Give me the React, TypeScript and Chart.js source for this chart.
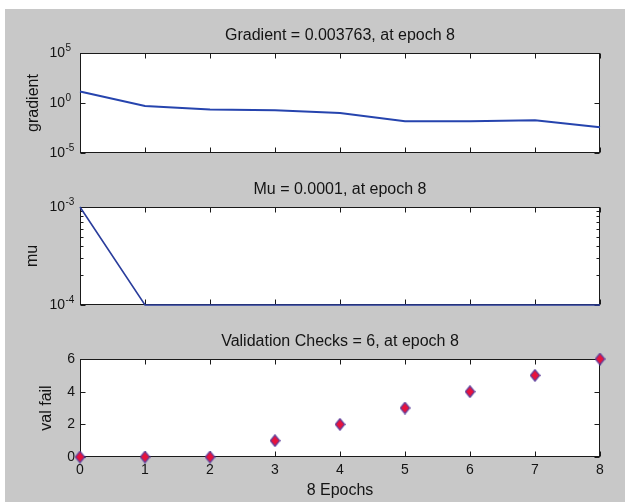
import React, { useEffect, useRef } from 'react';
import { Chart, registerables } from 'chart.js';

Chart.register(...registerables);

// ---- data ----
const epochs = [0, 1, 2, 3, 4, 5, 6, 7, 8];
const gradientValues = [14, 0.51, 0.22, 0.19, 0.1, 0.015, 0.015, 0.019, 0.003763];
const muValues = [1e-3, 1e-4, 1e-4, 1e-4, 1e-4, 1e-4, 1e-4, 1e-4, 1e-4];
const valFailValues = [0, 0, 0, 1, 2, 3, 4, 5, 6];

const gradientTicks = [1e-5, 1, 1e5];
const gradientTickLabels = ['10^-5', '10^0', '10^5'];
const muTicks = [1e-4, 2e-4, 3e-4, 4e-4, 5e-4, 6e-4, 7e-4, 8e-4, 9e-4, 1e-3];
const muTickLabels = ['10^-4', '', '', '', '', '', '', '', '', '10^-3'];
const valFailTicks = [0, 2, 4, 6];
const valFailTickLabels = ['0', '2', '4', '6'];
const epochTickLabels = ['0', '1', '2', '3', '4', '5', '6', '7', '8'];

const titles = [
  'Gradient = 0.003763, at epoch 8',
  'Mu = 0.0001, at epoch 8',
  'Validation Checks = 6, at epoch 8',
];
const yTitles = ['gradient', 'mu', 'val fail'];
const xTitle = '8 Epochs';

// ---- styles ----
const FONT = "'Liberation Sans', Arial, Helvetica, sans-serif";
const TEXT = '#141414';

const framePlugin = {
  id: 'frame',
  beforeDatasetsDraw(chart: any, _args: any, opts: any) {
    const { ctx, chartArea: a, scales } = chart;
    ctx.save();
    ctx.fillStyle = '#ffffff';
    ctx.fillRect(a.left, a.top, a.right - a.left, a.bottom - a.top);
    const L = Math.round(a.left) + 0.5;
    const R = Math.round(a.right) - 0.5;
    const T = Math.round(a.top) + 0.5;
    const B = Math.round(a.bottom) - 0.5;
    ctx.strokeStyle = '#1a1a1a';
    ctx.lineWidth = 1;
    ctx.strokeRect(L, T, R - L, B - T);
    ctx.beginPath();
    const xs = scales.x;
    for (const v of epochs) {
      const px = Math.round(xs.getPixelForValue(v)) + 0.5;
      ctx.moveTo(px, T);
      ctx.lineTo(px, T + 5);
      ctx.moveTo(px, B);
      ctx.lineTo(px, B - 5);
    }
    const ys = scales.y;
    const ticks: number[] = opts.yTicks || [];
    const labels: string[] = opts.yLabels || [];
    ticks.forEach((v, i) => {
      const len = labels[i] ? 5 : 3;
      const py = Math.round(ys.getPixelForValue(v)) + 0.5;
      ctx.moveTo(L, py);
      ctx.lineTo(L + len, py);
      ctx.moveTo(R, py);
      ctx.lineTo(R - len, py);
    });
    ctx.stroke();

    // power-of-ten tick labels with superscript exponents
    if (opts.superscript) {
      ctx.fillStyle = TEXT;
      ticks.forEach((v, i) => {
        const lab = labels[i];
        if (!lab) return;
        const [base, exp] = lab.split('^');
        const py = ys.getPixelForValue(v);
        const split = a.left - 15;
        ctx.font = `14px ${FONT}`;
        ctx.textAlign = 'right';
        ctx.textBaseline = 'middle';
        ctx.fillText(base, split, py);
        ctx.font = `10px ${FONT}`;
        ctx.textAlign = 'left';
        ctx.textBaseline = 'alphabetic';
        ctx.fillText(exp, split + 0.5, py - 2);
      });
    }
    ctx.restore();
  },
};

function makeDiamond(): HTMLCanvasElement {
  const c = document.createElement('canvas');
  c.width = 11;
  c.height = 13;
  const g = c.getContext('2d')!;
  g.beginPath();
  g.moveTo(5.5, 0.8);
  g.lineTo(10.2, 6.5);
  g.lineTo(5.5, 12.2);
  g.lineTo(0.8, 6.5);
  g.closePath();
  g.fillStyle = '#e8123c';
  g.fill();
  g.strokeStyle = '#5a3c9c';
  g.lineWidth = 1.2;
  g.stroke();
  return c;
}

function titleOpts(text: string, top: number, bottom: number) {
  return {
    display: true,
    fullSize: false,
    text,
    color: TEXT,
    font: { family: FONT, size: 16, weight: 'normal' as const, lineHeight: 1.2 },
    padding: { top, bottom },
  };
}

function yScale(type: string, min: number, max: number, ticks: number[], labels: string[], title: string, titlePad: number, showLabels: boolean) {
  return {
    type,
    min,
    max,
    afterBuildTicks: (s: any) => {
      s.ticks = ticks.map((v) => ({ value: v }));
    },
    afterFit: (s: any) => {
      s.width = 80;
    },
    ticks: {
      display: showLabels,
      autoSkip: false,
      padding: 5,
      color: TEXT,
      font: { family: FONT, size: 14 },
      callback: (_v: any, i: number) => labels[i],
    },
    grid: { display: false, drawTicks: false },
    border: { display: false },
    title: {
      display: true,
      text: title,
      color: TEXT,
      font: { family: FONT, size: 16, lineHeight: 1.2 },
      padding: { top: titlePad, bottom: 0 },
    },
  };
}

function xScale(show: boolean) {
  return {
    type: 'linear',
    min: 0,
    max: 8,
    display: show,
    afterBuildTicks: (s: any) => {
      s.ticks = epochs.map((v) => ({ value: v }));
    },
    afterFit: (s: any) => {
      if (show) s.height = 45;
    },
    ticks: {
      autoSkip: false,
      maxRotation: 0,
      padding: 4.6,
      color: TEXT,
      font: { family: FONT, size: 14 },
      callback: (_v: any, i: number) => epochTickLabels[i],
    },
    grid: { display: false, drawTicks: false },
    border: { display: false },
    title: {
      display: show,
      text: xTitle,
      color: TEXT,
      font: { family: FONT, size: 16, lineHeight: 1.2 },
      padding: { top: 0, bottom: 1.4 },
    },
  };
}

export default function App() {
  const r1 = useRef<HTMLCanvasElement>(null);
  const r2 = useRef<HTMLCanvasElement>(null);
  const r3 = useRef<HTMLCanvasElement>(null);

  useEffect(() => {
    const diamond = makeDiamond();
    const common = {
      animation: false as const,
      responsive: false,
      events: [] as any[],
    };
    const c1 = new Chart(r1.current!, {
      type: 'line',
      data: {
        datasets: [
          {
            data: epochs.map((e, i) => ({ x: e, y: gradientValues[i] })),
            borderColor: '#2644ae',
            borderWidth: 2,
            pointRadius: 0,
            tension: 0,
            clip: false as any,
          },
        ],
      },
      options: {
        ...common,
        layout: { padding: { left: 0, right: 25, top: 0, bottom: 17 }, autoPadding: false },
        plugins: {
          legend: { display: false },
          tooltip: { enabled: false },
          title: titleOpts(titles[0], 26.4, 7.4),
          frame: { yTicks: gradientTicks, yLabels: gradientTickLabels, superscript: true },
        } as any,
        scales: {
          x: xScale(false) as any,
          y: yScale('logarithmic', 1e-5, 1e5, gradientTicks, gradientTickLabels, yTitles[0], 24.4, false) as any,
        },
      },
      plugins: [framePlugin],
    });
    const c2 = new Chart(r2.current!, {
      type: 'line',
      data: {
        datasets: [
          {
            data: epochs.map((e, i) => ({ x: e, y: muValues[i] })),
            borderColor: '#2a3d9c',
            borderWidth: 1.6,
            pointRadius: 0,
            tension: 0,
            clip: false as any,
          },
        ],
      },
      options: {
        ...common,
        layout: { padding: { left: 0, right: 25, top: 0, bottom: 17 }, autoPadding: false },
        plugins: {
          legend: { display: false },
          tooltip: { enabled: false },
          title: titleOpts(titles[1], 10.4, 7.4),
          frame: { yTicks: muTicks, yLabels: muTickLabels, superscript: true },
        } as any,
        scales: {
          x: xScale(false) as any,
          y: yScale('logarithmic', 1e-4, 1e-3, muTicks, muTickLabels, yTitles[1], 23.4, false) as any,
        },
      },
      plugins: [framePlugin],
    });
    const c3 = new Chart(r3.current!, {
      type: 'line',
      data: {
        datasets: [
          {
            data: epochs.map((e, i) => ({ x: e, y: valFailValues[i] })),
            showLine: false,
            pointStyle: diamond as any,
            pointRadius: 6,
            clip: false as any,
          },
        ],
      },
      options: {
        ...common,
        layout: { padding: { left: 0, right: 25, top: 0, bottom: 0 }, autoPadding: false },
        plugins: {
          legend: { display: false },
          tooltip: { enabled: false },
          title: titleOpts(titles[2], 10.4, 7.4),
          frame: { yTicks: valFailTicks, yLabels: valFailTickLabels, superscript: false },
        } as any,
        scales: {
          x: xScale(true) as any,
          y: yScale('linear', 0, 6, valFailTicks, valFailTickLabels, yTitles[2], 37.4, true) as any,
        },
      },
      plugins: [framePlugin],
    });
    return () => {
      c1.destroy();
      c2.destroy();
      c3.destroy();
    };
  }, []);

  return (
    <div style={{ position: 'fixed', left: 0, top: 0, width: 625, height: 502, background: '#ffffff', overflow: 'hidden' }}>
      <div style={{ position: 'absolute', left: 5, top: 9, width: 620, height: 493, background: '#c8c8c8' }} />
      <canvas ref={r1} width={625} height={170} style={{ position: 'absolute', left: 0, top: 0 }} />
      <canvas ref={r2} width={625} height={152} style={{ position: 'absolute', left: 0, top: 170 }} />
      <canvas ref={r3} width={625} height={180} style={{ position: 'absolute', left: 0, top: 322 }} />
    </div>
  );
}
